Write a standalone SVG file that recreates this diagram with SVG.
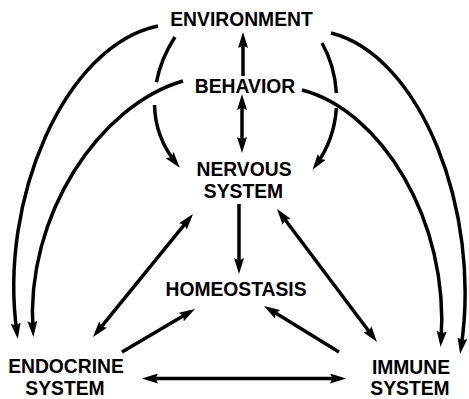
<svg xmlns="http://www.w3.org/2000/svg" width="469" height="399" viewBox="0 0 469 399">
<style>
text{font-family:"Liberation Sans",Arial,sans-serif;font-weight:bold;font-size:19.3px;fill:#000;text-anchor:middle}
.c path{fill:none;stroke:#000;stroke-width:3.5}
.e{marker-end:url(#ah)}
.b{marker-start:url(#ah);marker-end:url(#ah)}
</style>
<defs>
<marker id="ah" viewBox="0 0 16 10" refX="10" refY="5" markerWidth="16" markerHeight="10" markerUnits="userSpaceOnUse" orient="auto-start-reverse">
<path d="M0,0 L16,5 L0,10 L2.5,5 z" fill="#000"/>
</marker>
</defs>
<rect width="469" height="399" fill="#fff"/>
<g class="c" id="connectors">
<path class="e" d="M243,76 L243,38"/>
<path class="b" d="M242,100 L242,147"/>
<path class="e" d="M239,204 L239,268"/>
<path class="b" d="M96.8,332.3 L189.2,218.7"/>
<path class="e" d="M122,352 L189.8,312"/>
<path class="b" d="M280.6,213.8 L373.4,337.2"/>
<path class="e" d="M339,352 L269.1,309.1"/>
<path class="b" d="M148,378.5 L340,378.5"/>
<path class="e" d="M158,26 C65,45 -2,200 17,333"/>
<path class="e" d="M183,81 C100,105 25,215 33,331"/>
<path class="e" d="M331,33 C420,55 482,210 461,348"/>
<path class="e" d="M302,90 C380,110 450,220 441,341"/>
<path d="M175,37 C165.9,50.9 159.4,66.3 156.4,82.2"/>
<path class="e" d="M154.5,105 C155,125.3 161.7,145.4 176,163"/>
<path d="M322,43 C329.9,57 335.3,74.5 336.4,93"/>
<path class="e" d="M336.4,108.1 C335.1,127.4 328.9,147.2 316,165"/>
</g>
<g id="environment"><text x="241.5" y="26">ENVIRONMENT</text></g>
<g id="behavior"><text x="245" y="93">BEHAVIOR</text></g>
<g id="nervous"><text x="244" y="176">NERVOUS</text><text x="243.5" y="198">SYSTEM</text></g>
<g id="homeostasis"><text x="236" y="296">HOMEOSTASIS</text></g>
<g id="endocrine"><text x="66" y="373">ENDOCRINE</text><text x="65" y="395">SYSTEM</text></g>
<g id="immune"><text x="411" y="374">IMMUNE</text><text x="410" y="395">SYSTEM</text></g>
</svg>
